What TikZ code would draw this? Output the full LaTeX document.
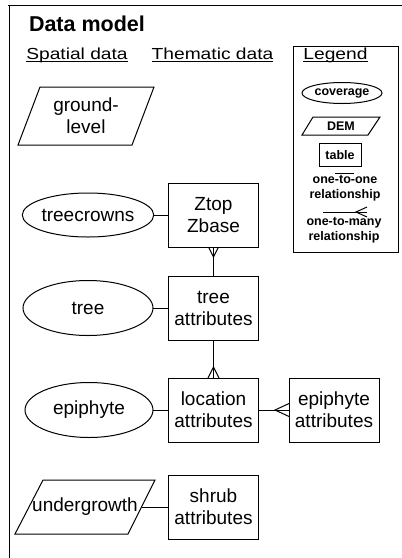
\documentclass[tikz,border=0pt]{standalone}
\usepackage{fontspec}
\setmainfont{Liberation Sans}
\usetikzlibrary{calc,shapes.geometric}
\newcommand{\widetext}[1]{\scalebox{1.2}[1]{#1}}
\begin{document}
\begin{tikzpicture}[x=1pt,y=-1pt,
 every node/.style={inner sep=0pt,outer sep=0pt},
 txt/.style={font=\fontsize{19}{22}\selectfont, align=center},
 lgt/.style={font=\bfseries\fontsize{12.5}{14.5}\selectfont, align=center},
 link/.style={line width=1pt},
 tbl/.style={draw, link, minimum width=90pt, minimum height=64pt, txt},
 ent/.style={draw, ellipse, link, txt},
 hd/.style={font=\fontsize{16}{19}\selectfont, anchor=base},
 uline/.style={line width=1.1pt},
]
\useasboundingbox (0,0) rectangle (402,558);
% frame
\draw[link] (8,5) -- (402,5);
\draw[link] (9,5) -- (9,558);
% titles
\node[anchor=base west, font=\bfseries\fontsize{21.5}{24}\selectfont] (title) at (29,31) {Data model};
\node[hd] (sp) at (77,59.3) {\widetext{Spatial data}};
\node[hd] (th) at (212.5,59.3) {\widetext{Thematic data}};
\draw[uline] ([yshift=-2.6pt]sp.base west) -- ([yshift=-2.6pt]sp.base east);
\draw[uline] ([yshift=-2.6pt]th.base west) -- ([yshift=-2.6pt]th.base east);
% tables
\node[tbl] (zt) at (213.5,215) {Ztop\\Zbase};
\node[tbl] (ta) at (213.5,308) {tree\\attributes};
\node[tbl] (la) at (213.5,410) {location\\attributes};
\node[tbl] (ea) at (334,410) {epiphyte\\attributes};
\node[tbl] (sa) at (213.5,507) {shrub\\attributes};
% coverages
\node[ent, minimum width=127pt, minimum height=44pt] (tc) at (88,215) {treecrowns};
\node[ent, minimum width=130pt, minimum height=55pt] (tr) at (88,308) {tree};
\node[ent, minimum width=128pt, minimum height=55pt] (ep) at (89,410) {epiphyte};
% DEMs
\node[txt] (gl) at (86,116) {ground-\\level};
\draw[link] (40,87) -- (154,87) -- (132,145) -- (18,145) -- cycle;
\node[txt] (ug) at (85,507) {undergrowth};
\draw[link] (43,480) -- (155,480) -- (128,534) -- (15,534) -- cycle;
\coordinate (ugr) at (141.5,507);
% connectors
\draw[link] (tc) -- (zt);
\draw[link] (tr) -- (ta);
\draw[link] (ep) -- (la);
\draw[link] (la) -- (ea);
\draw[link] (zt) -- (ta);
\draw[link] (ta) -- (la);
\draw[link] (ugr) -- (sa);
% crow's feet
\draw[link] ($(zt.south)+(-5,0)$) -- ($(zt.south)+(0,10)$) -- ($(zt.south)+(5,0)$);
\draw[link] ($(la.north)+(-5.5,0)$) -- ($(la.north)+(0,-11)$) -- ($(la.north)+(5.5,0)$);
\draw[link] ($(ea.west)+(0,-6.5)$) -- ($(ea.west)+(-14,0)$) -- ($(ea.west)+(0,6.5)$);
% legend
\node[draw, link, minimum width=105pt, minimum height=206pt, anchor=north west] (lgbox) at (293,46) {};
\node[hd] (lg) at (335.5,59.3) {\widetext{Legend}};
\draw[uline] ([yshift=-2.6pt]lg.base west) -- ([yshift=-2.6pt]lg.base east);
\node[draw, ellipse, link, lgt, minimum width=80pt, minimum height=21pt] (cov) at (342,93) {coverage};
\node[lgt] (dem) at (341,126) {DEM};
\draw[link] (313,117) -- (380,117) -- (368,135) -- (302,135) -- cycle;
\node[draw, link, lgt, minimum width=42pt, minimum height=23pt] (tab) at (340,155) {table};
\coordinate (o1a) at (335,173);
\coordinate (o1b) at (354,173);
\draw[link] (o1a) -- (o1b);
\node[lgt] (o1t) at (345,188) {one-to-one\\relationship};
\coordinate (oma) at (323,212);
\coordinate (omb) at (367,212);
\draw[link] (oma) -- (omb);
\draw[link] (367,207) -- (356,212) -- (367,217);
\node[lgt] (omt) at (344,230) {one-to-many\\relationship};
\end{tikzpicture}
\end{document}
